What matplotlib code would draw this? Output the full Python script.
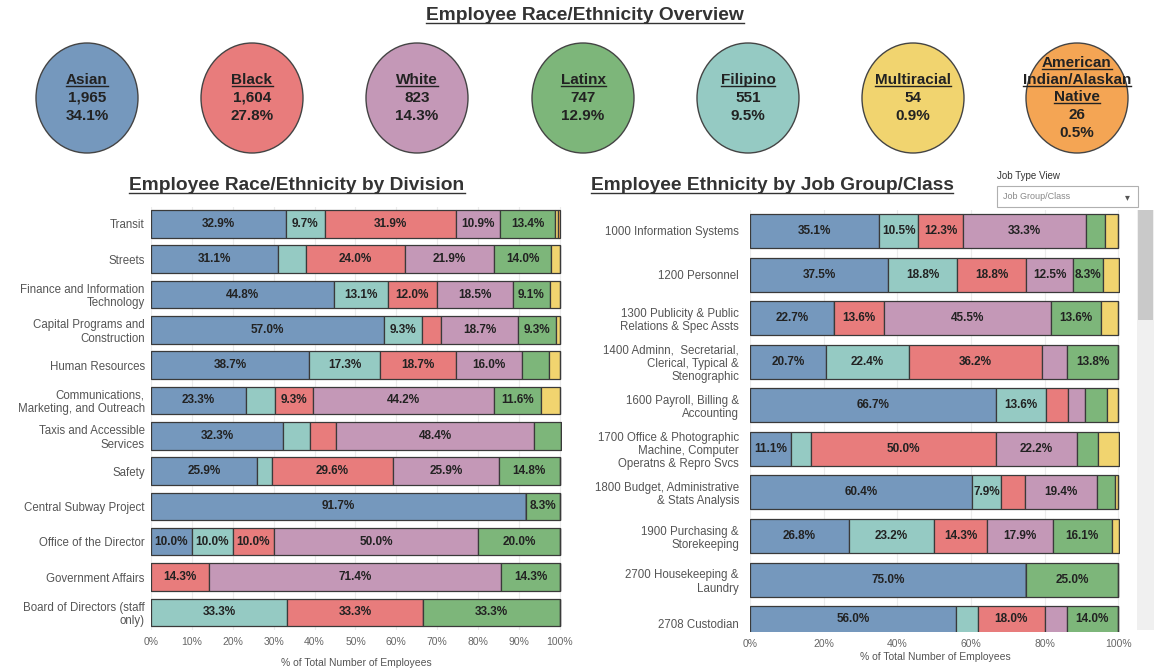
import matplotlib.pyplot as plt
from matplotlib.patches import Ellipse, Rectangle
from matplotlib.ticker import FuncFormatter

plt.rcParams['font.family'] = ['Liberation Sans', 'DejaVu Sans']

W, H = 1154, 672

# overview circles
groups = ['Asian', 'Black', 'White', 'Latinx', 'Filipino', 'Multiracial',
          'American\nIndian/Alaskan\nNative']
group_counts = ['1,965', '1,604', '823', '747', '551', '54', '26']
group_pcts = [34.1, 27.8, 14.3, 12.9, 9.5, 0.9, 0.5]

colors = {
    'Asian': '#7598bd',
    'Filipino': '#95cac3',
    'Black': '#e87c7c',
    'White': '#c498b7',
    'Latinx': '#7db67a',
    'Multiracial': '#f1d46f',
    'AmInd': '#f4a554',
}
circle_colors = [colors['Asian'], colors['Black'], colors['White'], colors['Latinx'],
                 colors['Filipino'], colors['Multiracial'], colors['AmInd']]

# by division (% of employees)
divisions = ['Transit', 'Streets', 'Finance and Information\nTechnology',
             'Capital Programs and\nConstruction', 'Human Resources',
             'Communications,\nMarketing, and Outreach', 'Taxis and Accessible\nServices',
             'Safety', 'Central Subway Project', 'Office of the Director',
             'Government Affairs', 'Board of Directors (staff\nonly)']
div_asian = [32.9, 31.1, 44.8, 57.0, 38.7, 23.3, 32.3, 25.9, 91.7, 10.0, 0, 0]
div_filipino = [9.7, 6.9, 13.1, 9.3, 17.3, 7.0, 6.5, 3.7, 0, 10.0, 0, 33.3]
div_black = [31.9, 24.0, 12.0, 4.7, 18.7, 9.3, 6.5, 29.6, 0, 10.0, 14.3, 33.3]
div_white = [10.9, 21.9, 18.5, 18.7, 16.0, 44.2, 48.4, 25.9, 0, 50.0, 71.4, 0]
div_latinx = [13.4, 14.0, 9.1, 9.3, 6.7, 11.6, 6.5, 14.8, 8.3, 20.0, 14.3, 33.3]
div_multi = [0.7, 2.1, 2.5, 1.0, 2.7, 4.7, 0, 0, 0, 0, 0, 0]
div_amind = [0.5, 0, 0, 0, 0, 0, 0, 0, 0, 0, 0, 0]

# by job group/class
jobs = ['1000 Information Systems', '1200 Personnel',
        '1300 Publicity & Public\nRelations & Spec Assts',
        '1400 Adminn,  Secretarial,\nClerical, Typical &\nStenographic',
        '1600 Payroll, Billing &\nAccounting',
        '1700 Office & Photographic\nMachine, Computer\nOperatns & Repro Svcs',
        '1800 Budget, Administrative\n& Stats Analysis',
        '1900 Purchasing &\nStorekeeping', '2700 Housekeeping &\nLaundry',
        '2708 Custodian']
job_asian = [35.1, 37.5, 22.7, 20.7, 66.7, 11.1, 60.4, 26.8, 75.0, 56.0]
job_filipino = [10.5, 18.8, 0, 22.4, 13.6, 5.6, 7.9, 23.2, 0, 6.0]
job_black = [12.3, 18.8, 13.6, 36.2, 6.1, 50.0, 6.5, 14.3, 0, 18.0]
job_white = [33.3, 12.5, 45.5, 6.9, 4.5, 22.2, 19.4, 17.9, 0, 6.0]
job_latinx = [5.3, 8.3, 13.6, 13.8, 6.1, 5.6, 5.0, 16.1, 25.0, 14.0]
job_multi = [3.5, 4.2, 4.5, 0, 3.0, 5.6, 0.7, 1.8, 0, 0]
job_amind = [0, 0, 0, 0, 0, 0, 0, 0, 0, 0]

fig = plt.figure(figsize=(W / 100, H / 100), dpi=100)

# pixel overlay for circles, titles, widgets
ov = fig.add_axes([0, 0, 1, 1])
ov.set_xlim(0, W)
ov.set_ylim(H, 0)
ov.axis('off')

underline_list = []


def utext(x, y, s, **kw):
    t = ov.text(x, y, s, ha='center', va='center', **kw)
    underline_list.append(t)
    return t


utext(585, 16, 'Employee Race/Ethnicity Overview', fontsize=13.8, fontweight='bold', color='#333333')
utext(297, 186, 'Employee Race/Ethnicity by Division', fontsize=13.8, fontweight='bold', color='#333333')
utext(772, 186, 'Employee Ethnicity by Job Group/Class', fontsize=13.8, fontweight='bold', color='#333333')

cx = [87, 252, 417, 583, 748, 913, 1077]
for i in range(len(groups)):
    ov.add_patch(Ellipse((cx[i], 98), 102, 110, facecolor=circle_colors[i],
                         edgecolor='#444444', linewidth=1))
    lines = groups[i].split('\n')
    y0 = 80 - 17 * (len(lines) - 1) / 2
    for j, ln in enumerate(lines):
        utext(cx[i], y0 + 17 * j, ln, fontsize=11, fontweight='bold', color='#222222')
    yc = y0 + 17 * (len(lines) - 1) + 18
    ov.text(cx[i], yc, group_counts[i], ha='center', va='center', fontsize=11,
            fontweight='bold', color='#222222')
    ov.text(cx[i], yc + 18, f'{group_pcts[i]:.1f}%', ha='center', va='center', fontsize=11,
            fontweight='bold', color='#222222')

# dropdown widget
ov.text(997, 176, 'Job Type View', ha='left', va='center', fontsize=7, color='#333333')
ov.add_patch(Rectangle((997, 186), 141, 21, facecolor='white', edgecolor='#b0b0b0', linewidth=0.8))
ov.text(1003, 196.5, 'Job Group/Class', ha='left', va='center', fontsize=6.5, color='#888888')
ov.text(1127, 197, '▾', ha='center', va='center', fontsize=7, color='#555555')

# scrollbar
ov.add_patch(Rectangle((1137, 210), 17, 420, facecolor='#f0f0f0', edgecolor='none'))
ov.add_patch(Rectangle((1138, 210), 15, 110, facecolor='#c9c9c9', edgecolor='none'))


def stacked(ax, cats, series, ticks, pad):
    left = [0] * len(cats)
    pos = list(range(len(cats)))
    for vals, key in series:
        bars = ax.barh(pos, vals, left=left, height=0.78, color=colors[key],
                       edgecolor='#3a3a3a', linewidth=0.9)
        labels = [f'{v:.1f}%' if v >= 7.5 else '' for v in vals]
        ax.bar_label(bars, labels=labels, label_type='center', fontsize=8.5,
                     fontweight='bold', color='#222222')
        left = [a + b for a, b in zip(left, vals)]
    ax.set_yticks(pos)
    ax.set_yticklabels(cats, fontsize=8.3, color='#555555')
    for lbl in ax.get_yticklabels():
        lbl.set_linespacing(1.15)
    ax.set_xlim(0, 100.5)
    ax.set_xticks(ticks)
    ax.xaxis.set_major_formatter(FuncFormatter(lambda v, p: f'{v:.0f}%'))
    ax.tick_params(axis='y', length=0, pad=pad)
    ax.tick_params(axis='x', length=0, pad=5, labelsize=7.5, labelcolor='#666666')
    for s in ax.spines.values():
        s.set_visible(False)
    ax.set_axisbelow(True)
    ax.grid(axis='x', color='#ececec', linewidth=0.8)


ax1 = fig.add_axes([151 / W, 1 - 630 / H, 411 / W, 423 / H])
stacked(ax1, divisions,
        [(div_asian, 'Asian'), (div_filipino, 'Filipino'), (div_black, 'Black'),
         (div_white, 'White'), (div_latinx, 'Latinx'), (div_multi, 'Multiracial'),
         (div_amind, 'AmInd')],
        range(0, 101, 10), 4.5)
ax1.set_ylim(11.5, -0.48)
ax1.set_xlabel('% of Total Number of Employees', fontsize=7.5, color='#555555', labelpad=8)

ax2 = fig.add_axes([750 / W, 1 - 632 / H, 370 / W, 422 / H])
stacked(ax2, jobs,
        [(job_asian, 'Asian'), (job_filipino, 'Filipino'), (job_black, 'Black'),
         (job_white, 'White'), (job_latinx, 'Latinx'), (job_multi, 'Multiracial'),
         (job_amind, 'AmInd')],
        range(0, 101, 20), 8)
ax2.set_ylim(9.2, -0.48)
ax2.set_xlabel('% of Total Number of Employees', fontsize=7.5, color='#555555', labelpad=2)

# underline titles / names
fig.canvas.draw()
r = fig.canvas.get_renderer()
inv = ov.transData.inverted()
for t in underline_list:
    bb = t.get_window_extent(r)
    (x0, y0), (x1, y1) = inv.transform([[bb.x0, bb.y0], [bb.x1, bb.y1]])
    yb = max(y0, y1) - 1.5
    ov.plot([x0, x1], [yb, yb], color=t.get_color(), linewidth=1.0)

fig.savefig('out.png', dpi=100)
